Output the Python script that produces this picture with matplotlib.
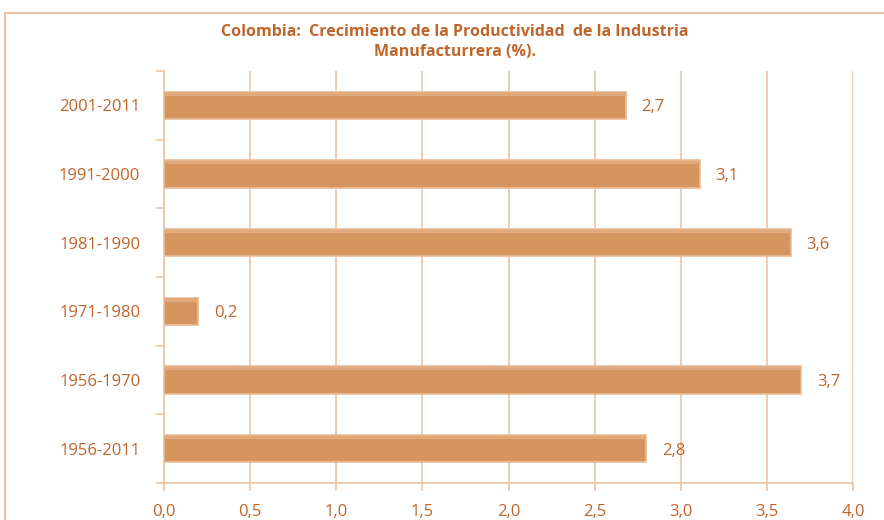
import numpy as np
import matplotlib.pyplot as plt
from matplotlib.patches import Rectangle

# data (top to bottom as shown)
periods = ['2001-2011', '1991-2000', '1981-1990', '1971-1980', '1956-1970', '1956-2011']
growth = [2.68, 3.11, 3.64, 0.20, 3.70, 2.80]
labels = ['2,7', '3,1', '3,6', '0,2', '3,7', '2,8']
xticks = [0.0, 0.5, 1.0, 1.5, 2.0, 2.5, 3.0, 3.5, 4.0]

text_col = '#C0652A'
line_col = '#EBC3A3'
bar_col = '#D6955F'

plt.rcParams['font.family'] = ['Open Sans', 'DejaVu Sans']

fig = plt.figure(figsize=(8.84, 5.2), dpi=100)

# outer chart frame
fig.patches.append(Rectangle((5 / 884, -0.1), 1.2, 1 - 13 / 520 + 0.1,
                             transform=fig.transFigure, fill=False,
                             edgecolor=line_col, linewidth=1.5))

ax = fig.add_axes([164 / 884, 1 - 483 / 520, (853 - 164) / 884, (483 - 71) / 520])

y = np.arange(len(periods))[::-1]
ax.barh(y, growth, height=0.4, color=bar_col, edgecolor='#E9BD98', linewidth=1.2, zorder=3)
# light bevel on the top edge of each bar
ax.barh(y + 0.165, growth, height=0.05, color='#E2AA7C', linewidth=0, zorder=3)

for yi, v, lab in zip(y, growth, labels):
    ax.text(v + 0.09, yi - 0.03, lab, va='center', ha='left', color=text_col, fontsize=12)

ax.set_xlim(0, 4.0)
ax.set_ylim(-0.5, len(periods) - 0.5)
ax.set_xticks(xticks)
ax.set_xticklabels([f'{t:.1f}'.replace('.', ',') for t in xticks], color=text_col, fontsize=12)
ax.set_yticks(y)
ax.set_yticklabels(periods, color=text_col, fontsize=12)
ax.set_yticks(np.arange(len(periods) + 1) - 0.5, minor=True)
ax.tick_params(axis='y', which='major', length=0, pad=17)
ax.tick_params(axis='y', which='minor', length=6, color=line_col, width=1.2)
ax.tick_params(axis='x', length=6, color=line_col, width=1.2, pad=9)

ax.grid(axis='x', color=line_col, linewidth=1.2, zorder=0)
for side in ['top', 'right']:
    ax.spines[side].set_visible(False)
for side in ['left', 'bottom']:
    ax.spines[side].set_color(line_col)
    ax.spines[side].set_linewidth(1.2)

fig.text(455 / 884, 1 - 42 / 520,
         'Colombia:  Crecimiento de la Productividad  de la Industria\nManufacturrera (%).',
         ha='center', va='center', color=text_col, fontsize=11.5, fontweight='bold',
         linespacing=1.25)

fig.savefig('out.png', dpi=100)
